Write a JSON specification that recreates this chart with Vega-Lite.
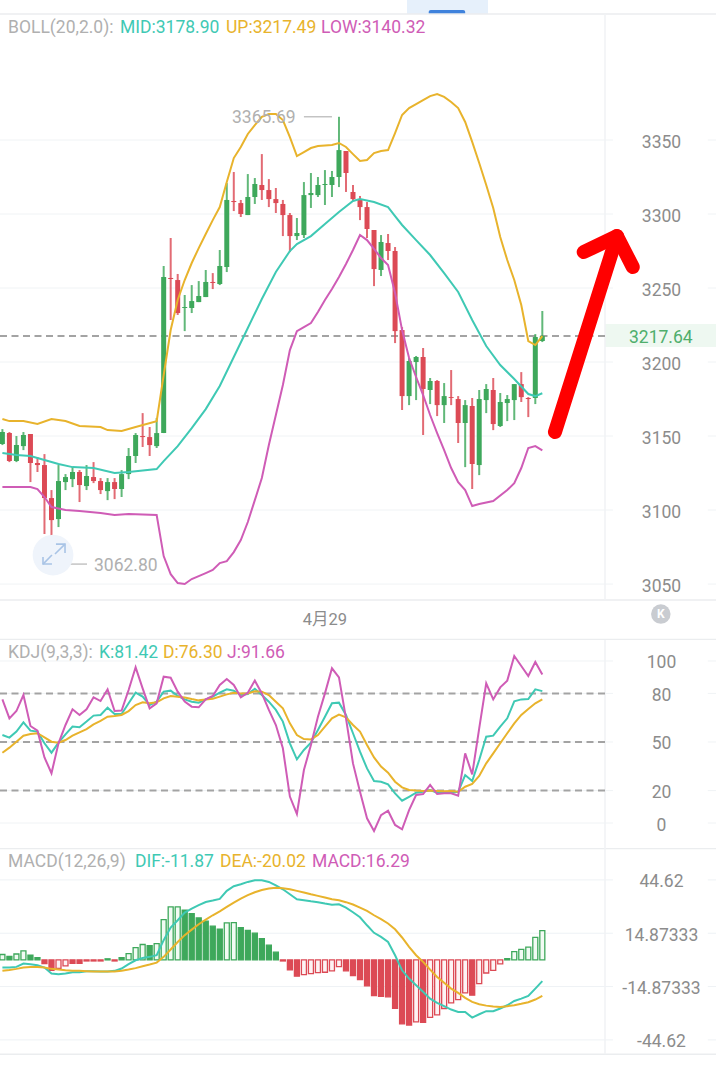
{
"$schema":"https://vega.github.io/schema/vega-lite/v6.json",
"padding":0,"spacing":0,"bounds":"flush","background":"#ffffff",
"config":{"view":{"stroke":null},"text":{"font":"Roboto"},"concat":{"spacing":0}},
"datasets":{
"candles":[
{"i":0,"o":3144.6,"c":3152.7,"h":3154.7,"l":3143.9,"tone":"up"},
{"i":1,"o":3152.0,"c":3133.1,"h":3152.7,"l":3132.4,"tone":"down"},
{"i":2,"o":3133.1,"c":3143.9,"h":3150.0,"l":3132.4,"tone":"up"},
{"i":3,"o":3143.2,"c":3150.7,"h":3152.7,"l":3140.5,"tone":"up"},
{"i":4,"o":3151.3,"c":3131.8,"h":3151.3,"l":3118.9,"tone":"down"},
{"i":5,"o":3131.8,"c":3130.4,"h":3135.8,"l":3125.7,"tone":"down"},
{"i":6,"o":3130.4,"c":3108.1,"h":3137.8,"l":3083.8,"tone":"down"},
{"i":7,"o":3108.1,"c":3093.2,"h":3113.5,"l":3062.8,"tone":"down"},
{"i":8,"o":3093.9,"c":3119.6,"h":3130.4,"l":3088.5,"tone":"up"},
{"i":9,"o":3118.9,"c":3122.3,"h":3124.3,"l":3113.5,"tone":"up"},
{"i":10,"o":3120.9,"c":3125.7,"h":3129.0,"l":3115.5,"tone":"up"},
{"i":11,"o":3125.7,"c":3116.9,"h":3127.0,"l":3105.4,"tone":"down"},
{"i":12,"o":3116.2,"c":3123.0,"h":3130.4,"l":3113.5,"tone":"up"},
{"i":13,"o":3122.3,"c":3119.6,"h":3132.4,"l":3118.2,"tone":"down"},
{"i":14,"o":3119.6,"c":3113.5,"h":3121.6,"l":3110.8,"tone":"down"},
{"i":15,"o":3112.8,"c":3118.9,"h":3121.6,"l":3106.7,"tone":"up"},
{"i":16,"o":3118.9,"c":3114.2,"h":3121.6,"l":3107.4,"tone":"down"},
{"i":17,"o":3114.2,"c":3124.3,"h":3127.0,"l":3108.8,"tone":"up"},
{"i":18,"o":3124.3,"c":3136.5,"h":3141.9,"l":3120.9,"tone":"up"},
{"i":19,"o":3136.5,"c":3150.7,"h":3152.0,"l":3131.8,"tone":"up"},
{"i":20,"o":3150.0,"c":3149.3,"h":3165.5,"l":3142.6,"tone":"down"},
{"i":21,"o":3149.3,"c":3143.9,"h":3156.1,"l":3136.5,"tone":"down"},
{"i":22,"o":3143.2,"c":3152.0,"h":3162.2,"l":3141.9,"tone":"up"},
{"i":23,"o":3152.0,"c":3257.4,"h":3264.9,"l":3152.0,"tone":"up"},
{"i":24,"o":3256.8,"c":3256.1,"h":3283.8,"l":3228.4,"tone":"down"},
{"i":25,"o":3255.4,"c":3233.1,"h":3259.5,"l":3231.8,"tone":"down"},
{"i":26,"o":3236.5,"c":3237.2,"h":3245.3,"l":3220.9,"tone":"up"},
{"i":27,"o":3236.5,"c":3241.2,"h":3252.0,"l":3233.1,"tone":"up"},
{"i":28,"o":3240.5,"c":3244.6,"h":3254.7,"l":3240.5,"tone":"up"},
{"i":29,"o":3243.9,"c":3254.1,"h":3262.2,"l":3243.9,"tone":"up"},
{"i":30,"o":3254.1,"c":3253.4,"h":3260.1,"l":3249.3,"tone":"down"},
{"i":31,"o":3252.7,"c":3264.9,"h":3275.7,"l":3252.0,"tone":"up"},
{"i":32,"o":3264.2,"c":3309.5,"h":3320.9,"l":3260.8,"tone":"up"},
{"i":33,"o":3308.8,"c":3308.1,"h":3328.4,"l":3302.0,"tone":"down"},
{"i":34,"o":3307.4,"c":3300.0,"h":3309.5,"l":3298.0,"tone":"down"},
{"i":35,"o":3299.3,"c":3311.5,"h":3327.0,"l":3299.3,"tone":"up"},
{"i":36,"o":3311.5,"c":3320.3,"h":3324.3,"l":3306.8,"tone":"up"},
{"i":37,"o":3319.6,"c":3316.2,"h":3340.5,"l":3309.5,"tone":"down"},
{"i":38,"o":3316.2,"c":3310.1,"h":3323.6,"l":3304.7,"tone":"down"},
{"i":39,"o":3310.1,"c":3307.4,"h":3317.6,"l":3300.7,"tone":"down"},
{"i":40,"o":3306.8,"c":3299.3,"h":3309.5,"l":3285.1,"tone":"down"},
{"i":41,"o":3299.3,"c":3285.1,"h":3300.7,"l":3274.3,"tone":"down"},
{"i":42,"o":3285.1,"c":3287.2,"h":3297.3,"l":3282.4,"tone":"up"},
{"i":43,"o":3285.8,"c":3312.8,"h":3321.6,"l":3283.8,"tone":"up"},
{"i":44,"o":3312.8,"c":3314.2,"h":3327.7,"l":3304.1,"tone":"up"},
{"i":45,"o":3312.8,"c":3319.6,"h":3325.0,"l":3311.5,"tone":"up"},
{"i":46,"o":3319.6,"c":3320.3,"h":3329.7,"l":3306.1,"tone":"up"},
{"i":47,"o":3319.6,"c":3325.0,"h":3329.1,"l":3311.5,"tone":"up"},
{"i":48,"o":3325.0,"c":3343.2,"h":3365.69,"l":3318.2,"tone":"up"},
{"i":49,"o":3342.6,"c":3327.7,"h":3342.6,"l":3314.9,"tone":"down"},
{"i":50,"o":3314.9,"c":3310.1,"h":3319.6,"l":3308.8,"tone":"down"},
{"i":51,"o":3309.5,"c":3304.7,"h":3312.2,"l":3295.9,"tone":"down"},
{"i":52,"o":3304.7,"c":3289.9,"h":3308.1,"l":3283.8,"tone":"down"},
{"i":53,"o":3289.2,"c":3262.8,"h":3289.2,"l":3251.3,"tone":"down"},
{"i":54,"o":3262.2,"c":3281.1,"h":3285.8,"l":3258.1,"tone":"up"},
{"i":55,"o":3280.4,"c":3275.0,"h":3286.5,"l":3268.9,"tone":"down"},
{"i":56,"o":3275.0,"c":3220.9,"h":3277.7,"l":3212.8,"tone":"down"},
{"i":57,"o":3221.6,"c":3177.0,"h":3223.6,"l":3167.6,"tone":"down"},
{"i":58,"o":3177.0,"c":3200.7,"h":3202.7,"l":3170.9,"tone":"up"},
{"i":59,"o":3200.0,"c":3203.4,"h":3204.1,"l":3174.3,"tone":"up"},
{"i":60,"o":3203.4,"c":3181.8,"h":3209.5,"l":3150.7,"tone":"down"},
{"i":61,"o":3181.1,"c":3187.2,"h":3189.2,"l":3171.6,"tone":"up"},
{"i":62,"o":3187.2,"c":3170.9,"h":3187.8,"l":3163.5,"tone":"down"},
{"i":63,"o":3170.9,"c":3177.0,"h":3185.8,"l":3158.8,"tone":"up"},
{"i":64,"o":3176.3,"c":3175.7,"h":3194.6,"l":3170.9,"tone":"down"},
{"i":65,"o":3175.0,"c":3158.8,"h":3177.0,"l":3145.3,"tone":"down"},
{"i":66,"o":3158.8,"c":3170.9,"h":3174.3,"l":3129.0,"tone":"up"},
{"i":67,"o":3170.3,"c":3131.1,"h":3175.7,"l":3114.2,"tone":"down"},
{"i":68,"o":3130.4,"c":3175.0,"h":3181.1,"l":3123.6,"tone":"up"},
{"i":69,"o":3174.3,"c":3181.8,"h":3185.1,"l":3165.5,"tone":"up"},
{"i":70,"o":3181.1,"c":3158.1,"h":3189.2,"l":3154.0,"tone":"down"},
{"i":71,"o":3156.8,"c":3173.0,"h":3179.1,"l":3156.1,"tone":"up"},
{"i":72,"o":3172.3,"c":3175.0,"h":3177.7,"l":3160.1,"tone":"up"},
{"i":73,"o":3174.3,"c":3185.1,"h":3185.1,"l":3160.8,"tone":"up"},
{"i":74,"o":3185.1,"c":3176.3,"h":3193.2,"l":3173.0,"tone":"down"},
{"i":75,"o":3175.7,"c":3175.0,"h":3176.3,"l":3162.8,"tone":"down"},
{"i":76,"o":3175.7,"c":3216.9,"h":3218.9,"l":3171.6,"tone":"up"},
{"i":77,"o":3214.2,"c":3217.64,"h":3234.5,"l":3213.5,"tone":"up"}
],
"up":[
{"i":0,"p":3161.5},{"i":1,"p":3160.1},{"i":3,"p":3160.1},{"i":5,"p":3158.1},{"i":7,"p":3161.5},{"i":9,"p":3160.1},{"i":11,"p":3156.8},{"i":14,"p":3156.1},{"i":15,"p":3154.0},{"i":17,"p":3153.4},{"i":19,"p":3156.1},{"i":22,"p":3160.1},{"i":23,"p":3191.2},{"i":24,"p":3221.6},{"i":25,"p":3241.9},{"i":26,"p":3255.4},{"i":27,"p":3266.9},{"i":28,"p":3277.0},{"i":29,"p":3286.5},{"i":30,"p":3295.9},{"i":31,"p":3304.7},{"i":32,"p":3321.6},{"i":33,"p":3337.8},{"i":34,"p":3345.3},{"i":35,"p":3354.1},{"i":36,"p":3360.1},{"i":37,"p":3365.6},{"i":38,"p":3367.6},{"i":39,"p":3367.6},{"i":40,"p":3363.5},{"i":41,"p":3352.0},{"i":42,"p":3339.2},{"i":43,"p":3341.9},{"i":44,"p":3344.6},{"i":45,"p":3345.9},{"i":46,"p":3346.3},{"i":47,"p":3346.6},{"i":48,"p":3348.0},{"i":49,"p":3345.3},{"i":50,"p":3340.5},{"i":51,"p":3335.8},{"i":52,"p":3336.5},{"i":53,"p":3341.2},{"i":54,"p":3342.6},{"i":55,"p":3343.2},{"i":56,"p":3354.7},{"i":57,"p":3366.9},{"i":58,"p":3371.6},{"i":59,"p":3374.3},{"i":60,"p":3377.0},{"i":61,"p":3379.7},{"i":62,"p":3381.1},{"i":63,"p":3379.1},{"i":64,"p":3375.7},{"i":65,"p":3371.6},{"i":66,"p":3362.2},{"i":67,"p":3348.7},{"i":68,"p":3334.5},{"i":69,"p":3319.6},{"i":70,"p":3304.1},{"i":71,"p":3284.5},{"i":72,"p":3268.9},{"i":73,"p":3255.4},{"i":74,"p":3238.5},{"i":75,"p":3214.2},{"i":76,"p":3211.5},{"i":77,"p":3217.49}
],
"mid":[
{"i":0,"p":3138.5},{"i":2,"p":3137.2},{"i":4,"p":3136.5},{"i":6,"p":3133.8},{"i":8,"p":3131.1},{"i":10,"p":3129.0},{"i":13,"p":3128.4},{"i":16,"p":3125.0},{"i":18,"p":3125.7},{"i":22,"p":3127.7},{"i":23,"p":3133.1},{"i":25,"p":3143.2},{"i":27,"p":3155.4},{"i":29,"p":3168.2},{"i":31,"p":3183.8},{"i":33,"p":3203.4},{"i":35,"p":3223.0},{"i":37,"p":3242.6},{"i":39,"p":3260.8},{"i":41,"p":3275.0},{"i":42,"p":3279.7},{"i":44,"p":3285.1},{"i":46,"p":3293.2},{"i":48,"p":3301.4},{"i":50,"p":3308.8},{"i":51,"p":3310.1},{"i":53,"p":3308.1},{"i":55,"p":3304.7},{"i":56,"p":3298.6},{"i":57,"p":3292.6},{"i":59,"p":3282.4},{"i":61,"p":3272.3},{"i":63,"p":3260.1},{"i":65,"p":3247.3},{"i":67,"p":3228.4},{"i":69,"p":3210.8},{"i":71,"p":3198.0},{"i":73,"p":3188.5},{"i":75,"p":3178.4},{"i":76,"p":3177.0},{"i":77,"p":3178.9}
],
"low":[
{"i":0,"p":3115.5},{"i":4,"p":3115.5},{"i":5,"p":3114.2},{"i":6,"p":3108.8},{"i":7,"p":3102.0},{"i":9,"p":3100.0},{"i":11,"p":3099.3},{"i":14,"p":3098.0},{"i":16,"p":3096.6},{"i":18,"p":3097.3},{"i":22,"p":3096.6},{"i":23,"p":3068.9},{"i":24,"p":3056.7},{"i":25,"p":3050.7},{"i":26,"p":3050.0},{"i":27,"p":3053.4},{"i":28,"p":3055.4},{"i":29,"p":3057.4},{"i":30,"p":3059.5},{"i":31,"p":3064.2},{"i":32,"p":3065.5},{"i":33,"p":3071.6},{"i":34,"p":3079.7},{"i":35,"p":3091.9},{"i":36,"p":3106.7},{"i":37,"p":3121.6},{"i":38,"p":3143.9},{"i":39,"p":3164.2},{"i":40,"p":3184.5},{"i":41,"p":3208.1},{"i":42,"p":3220.9},{"i":43,"p":3223.6},{"i":44,"p":3226.3},{"i":45,"p":3233.8},{"i":46,"p":3241.9},{"i":47,"p":3249.3},{"i":48,"p":3257.4},{"i":49,"p":3266.2},{"i":50,"p":3275.7},{"i":51,"p":3285.8},{"i":52,"p":3282.4},{"i":53,"p":3276.4},{"i":54,"p":3270.3},{"i":55,"p":3265.5},{"i":56,"p":3246.6},{"i":57,"p":3221.6},{"i":58,"p":3202.7},{"i":59,"p":3189.9},{"i":60,"p":3177.7},{"i":61,"p":3164.2},{"i":62,"p":3152.0},{"i":63,"p":3140.5},{"i":64,"p":3128.4},{"i":65,"p":3118.9},{"i":66,"p":3113.5},{"i":67,"p":3102.7},{"i":68,"p":3104.1},{"i":70,"p":3106.1},{"i":72,"p":3113.5},{"i":73,"p":3118.2},{"i":74,"p":3128.4},{"i":75,"p":3141.9},{"i":76,"p":3143.2},{"i":77,"p":3140.32}
],
"kdj":[
{"i":0,"k":54.3,"d":43.4,"j":76.3},{"i":1,"k":52.7,"d":46.5,"j":64.6},{"i":2,"k":56.4,"d":50.2,"j":69.1},{"i":3,"k":62.1,"d":53.9,"j":79.0},{"i":4,"k":57.0,"d":54.9,"j":59.9},{"i":5,"k":56.4,"d":55.4,"j":57.0},{"i":6,"k":49.2,"d":52.9,"j":40.5},{"i":7,"k":43.4,"d":50.2,"j":30.7},{"i":8,"k":49.6,"d":49.6,"j":49.2},{"i":9,"k":54.7,"d":51.2,"j":60.5},
{"i":10,"k":59.5,"d":53.9,"j":70.2},{"i":11,"k":59.1,"d":56.0,"j":66.7},{"i":12,"k":62.6,"d":58.0,"j":70.2},{"i":13,"k":66.3,"d":60.9,"j":77.6},{"i":14,"k":66.7,"d":63.0,"j":75.3},{"i":15,"k":71.2,"d":65.6,"j":82.5},{"i":16,"k":67.3,"d":66.0,"j":69.1},{"i":17,"k":67.3,"d":66.7,"j":69.4},{"i":18,"k":73.9,"d":69.1,"j":82.1},{"i":19,"k":80.5,"d":72.8,"j":96.1},
{"i":20,"k":78.0,"d":74.5,"j":83.1},{"i":21,"k":72.8,"d":73.9,"j":70.8},{"i":22,"k":74.9,"d":74.5,"j":73.9},{"i":23,"k":81.1,"d":76.9,"j":90.3},{"i":24,"k":81.7,"d":78.4,"j":89.7},{"i":25,"k":78.4,"d":78.0,"j":81.1},{"i":26,"k":76.3,"d":77.4,"j":74.9},{"i":27,"k":74.9,"d":76.5,"j":71.8},{"i":28,"k":74.3,"d":75.7,"j":71.4},{"i":29,"k":76.3,"d":76.3,"j":76.3},
{"i":30,"k":78.0,"d":76.7,"j":78.4},{"i":31,"k":80.5,"d":78.0,"j":85.2},{"i":32,"k":82.5,"d":79.4,"j":88.9},{"i":33,"k":81.7,"d":80.4,"j":85.2},{"i":34,"k":79.0,"d":80.0,"j":77.6},{"i":35,"k":79.6,"d":80.0,"j":80.4},{"i":36,"k":82.9,"d":81.3,"j":87.9},{"i":37,"k":79.0,"d":81.1,"j":80.0},{"i":38,"k":74.9,"d":79.0,"j":69.8},{"i":39,"k":69.8,"d":74.9,"j":60.5},
{"i":40,"k":62.6,"d":70.8,"j":46.1},{"i":41,"k":49.2,"d":61.5,"j":16.3},{"i":42,"k":39.3,"d":54.3,"j":5.6},{"i":43,"k":45.1,"d":51.8,"j":32.7},{"i":44,"k":49.6,"d":51.6,"j":48.2},{"i":45,"k":57.4,"d":54.3,"j":65.6},{"i":46,"k":65.6,"d":59.5,"j":80.0},{"i":47,"k":73.9,"d":64.6,"j":95.5},{"i":48,"k":74.3,"d":66.9,"j":89.9},{"i":49,"k":66.7,"d":65.2,"j":64.6},
{"i":50,"k":55.4,"d":60.5,"j":36.8},{"i":51,"k":44.0,"d":56.4,"j":19.3},{"i":52,"k":33.7,"d":48.2,"j":2.9},{"i":53,"k":25.9,"d":40.5,"j":-4.9},{"i":54,"k":25.5,"d":34.8,"j":4.9},{"i":55,"k":23.9,"d":31.1,"j":7.6},{"i":56,"k":18.3,"d":25.5,"j":-1.2},{"i":57,"k":13.8,"d":22.0,"j":-3.9},{"i":58,"k":16.2,"d":20.4,"j":8.0},{"i":59,"k":18.7,"d":20.0,"j":17.3},
{"i":60,"k":19.3,"d":19.8,"j":17.9},{"i":61,"k":20.4,"d":20.0,"j":23.5},{"i":62,"k":18.7,"d":19.8,"j":17.9},{"i":63,"k":18.7,"d":19.6,"j":18.3},{"i":64,"k":18.7,"d":19.8,"j":18.3},{"i":65,"k":19.3,"d":19.3,"j":16.9},{"i":66,"k":29.6,"d":22.4,"j":43.0},{"i":67,"k":25.9,"d":24.1,"j":30.0},{"i":68,"k":38.9,"d":29.0,"j":58.4},{"i":69,"k":53.3,"d":36.8,"j":86.2},
{"i":70,"k":53.9,"d":43.0,"j":76.3},{"i":71,"k":59.5,"d":49.2,"j":83.7},{"i":72,"k":64.6,"d":55.4,"j":87.9},{"i":73,"k":75.1,"d":61.5,"j":103.1},{"i":74,"k":76.3,"d":66.7,"j":96.9},{"i":75,"k":76.5,"d":70.4,"j":90.7},{"i":76,"k":82.5,"d":73.9,"j":99.4},{"i":77,"k":81.42,"d":76.3,"j":91.66}
],
"macd":[
{"i":0,"m":3.0,"kind":"gh","dif":-4.3,"dea":-6.1},{"i":1,"m":2.0,"kind":"gs","dif":-4.3,"dea":-5.6},{"i":2,"m":3.3,"kind":"gh","dif":-3.9,"dea":-5.0},{"i":3,"m":5.0,"kind":"gh","dif":-2.0,"dea":-4.3},{"i":4,"m":2.6,"kind":"gs","dif":-2.4,"dea":-3.9},{"i":5,"m":1.3,"kind":"gs","dif":-3.0,"dea":-3.9},{"i":6,"m":-2.0,"kind":"rs","dif":-4.3,"dea":-4.3},{"i":7,"m":-5.8,"kind":"rs","dif":-7.6,"dea":-5.0},{"i":8,"m":-4.8,"kind":"rh","dif":-8.0,"dea":-5.4},{"i":9,"m":-3.3,"kind":"rh","dif":-7.6,"dea":-5.8},
{"i":10,"m":-1.9,"kind":"rs","dif":-6.9,"dea":-6.1},{"i":11,"m":-1.9,"kind":"rs","dif":-6.9,"dea":-6.1},{"i":12,"m":-0.6,"kind":"rs","dif":-6.3,"dea":-6.3},{"i":13,"m":-0.6,"kind":"rs","dif":-6.3,"dea":-6.5},{"i":14,"m":-0.6,"kind":"rs","dif":-6.5,"dea":-6.5},{"i":15,"m":0.6,"kind":"gs","dif":-6.5,"dea":-6.5},{"i":16,"m":-0.6,"kind":"rs","dif":-6.1,"dea":-6.5},{"i":17,"m":1.3,"kind":"gs","dif":-4.8,"dea":-6.1},{"i":18,"m":3.5,"kind":"gh","dif":-2.4,"dea":-5.4},{"i":19,"m":6.9,"kind":"gh","dif":-0.2,"dea":-4.6},
{"i":20,"m":8.6,"kind":"gh","dif":1.1,"dea":-3.5},{"i":21,"m":8.0,"kind":"gs","dif":1.7,"dea":-2.6},{"i":22,"m":9.1,"kind":"gh","dif":2.6,"dea":-1.5},{"i":23,"m":22.5,"kind":"gh","dif":11.0,"dea":1.7},{"i":24,"m":29.6,"kind":"gh","dif":18.0,"dea":5.8},{"i":25,"m":29.6,"kind":"gh","dif":22.1,"dea":10.0},{"i":26,"m":27.7,"kind":"gs","dif":26.4,"dea":13.8},{"i":27,"m":25.8,"kind":"gs","dif":28.6,"dea":16.9},{"i":28,"m":23.4,"kind":"gs","dif":30.5,"dea":19.9},{"i":29,"m":21.6,"kind":"gs","dif":32.3,"dea":22.5},
{"i":30,"m":18.8,"kind":"gs","dif":33.1,"dea":24.9},{"i":31,"m":17.1,"kind":"gs","dif":34.0,"dea":27.1},{"i":32,"m":20.6,"kind":"gh","dif":38.5,"dea":29.6},{"i":33,"m":20.8,"kind":"gh","dif":41.1,"dea":32.0},{"i":34,"m":18.0,"kind":"gs","dif":42.2,"dea":34.2},{"i":35,"m":16.5,"kind":"gs","dif":43.5,"dea":36.1},{"i":36,"m":14.9,"kind":"gs","dif":44.4,"dea":37.7},{"i":37,"m":11.9,"kind":"gs","dif":44.4,"dea":39.0},{"i":38,"m":8.2,"kind":"gs","dif":43.5,"dea":39.8},{"i":39,"m":4.3,"kind":"gs","dif":41.6,"dea":40.2},
{"i":40,"m":-0.6,"kind":"rs","dif":39.4,"dea":40.0},{"i":41,"m":-5.6,"kind":"rs","dif":36.6,"dea":39.4},{"i":42,"m":-9.1,"kind":"rs","dif":33.8,"dea":38.5},{"i":43,"m":-8.2,"kind":"rh","dif":33.3,"dea":37.6},{"i":44,"m":-7.6,"kind":"rh","dif":32.7,"dea":36.6},{"i":45,"m":-7.1,"kind":"rh","dif":32.2,"dea":35.7},{"i":46,"m":-6.9,"kind":"rh","dif":31.4,"dea":34.8},{"i":47,"m":-6.1,"kind":"rh","dif":30.7,"dea":33.8},{"i":48,"m":-3.7,"kind":"rh","dif":31.0,"dea":33.3},{"i":49,"m":-6.1,"kind":"rs","dif":29.2,"dea":32.2},
{"i":50,"m":-8.7,"kind":"rs","dif":26.6,"dea":30.9},{"i":51,"m":-11.0,"kind":"rs","dif":23.8,"dea":29.2},{"i":52,"m":-14.5,"kind":"rs","dif":19.3,"dea":27.3},{"i":53,"m":-19.9,"kind":"rs","dif":15.1,"dea":24.9},{"i":54,"m":-20.3,"kind":"rs","dif":12.8,"dea":22.7},{"i":55,"m":-20.6,"kind":"rs","dif":10.0,"dea":20.3},{"i":56,"m":-27.0,"kind":"rs","dif":2.6,"dea":17.1},{"i":57,"m":-35.7,"kind":"rs","dif":-5.8,"dea":12.5},{"i":58,"m":-36.3,"kind":"rs","dif":-10.4,"dea":7.3},{"i":59,"m":-34.6,"kind":"rh","dif":-14.1,"dea":2.6},
{"i":60,"m":-34.8,"kind":"rs","dif":-17.8,"dea":-1.1},{"i":61,"m":-32.0,"kind":"rh","dif":-21.6,"dea":-5.4},{"i":62,"m":-30.7,"kind":"rh","dif":-24.0,"dea":-9.5},{"i":63,"m":-27.1,"kind":"rh","dif":-25.8,"dea":-12.8},{"i":64,"m":-24.0,"kind":"rh","dif":-27.7,"dea":-16.0},{"i":65,"m":-22.1,"kind":"rh","dif":-29.0,"dea":-18.4},{"i":66,"m":-18.4,"kind":"rh","dif":-29.0,"dea":-21.2},{"i":67,"m":-19.7,"kind":"rs","dif":-32.2,"dea":-23.4},{"i":68,"m":-13.2,"kind":"rh","dif":-30.3,"dea":-24.7},{"i":69,"m":-7.3,"kind":"rh","dif":-28.6,"dea":-25.5},
{"i":70,"m":-5.8,"kind":"rh","dif":-28.6,"dea":-26.0},{"i":71,"m":-2.2,"kind":"rh","dif":-27.1,"dea":-26.2},{"i":72,"m":0.7,"kind":"gs","dif":-25.3,"dea":-25.8},{"i":73,"m":4.6,"kind":"gh","dif":-22.9,"dea":-25.3},{"i":74,"m":5.9,"kind":"gh","dif":-21.6,"dea":-24.5},{"i":75,"m":7.1,"kind":"gh","dif":-20.1,"dea":-23.6},{"i":76,"m":12.6,"kind":"gh","dif":-16.0,"dea":-22.1},{"i":77,"m":16.29,"kind":"gh","dif":-11.87,"dea":-20.02}
]
},
"vconcat":[
{"width":716,"height":640,
"encoding":{
"x":{"field":"i","type":"quantitative","scale":{"domain":[-0.342,101.77],"nice":false,"zero":false,"padding":0},"axis":null},
"y":{"field":"p","type":"quantitative","scale":{"domain":[3012.2,3444.6],"nice":false,"zero":false,"padding":0},
"axis":{"orient":"right","offset":-55,"title":null,"grid":false,"domain":false,"ticks":false,"labelPadding":0,"labelOffset":2,"format":"d","labelAlign":"center","labelFont":"Roboto","labelFontSize":17.5,"labelColor":"#8c8c8c","labelOverlap":false,"labelFlush":false,"values":[3050,3100,3150,3200,3250,3300,3350]}},
"color":{"field":"tone","type":"nominal","legend":null,"scale":{"domain":["up","down","gray","teal","yellow","magenta","price"],"range":["#3ea85b","#dc4a55","#b0b0b0","#3fc9b4","#e8b32c","#cf5cb6","#4fae6c"]}}
},
"layer":[
{"data":{"values":[{"i":85.94,"i2":101.77,"p":3225.7,"p2":3210.1}]},"mark":{"type":"rect","clip":true},"encoding":{"color":{"value":"#eef8f1"},"x2":{"field":"i2"},"y2":{"field":"p2"}}},
{"data":{"values":[{"i":57.7,"i2":69.25,"p":3444.6,"p2":3435.1}]},"mark":{"type":"rect","clip":true},"encoding":{"color":{"value":"#e6f0fb"},"x2":{"field":"i2"},"y2":{"field":"p2"}}},
{"data":{"values":[{"i":60.8,"i2":66.0,"p":3437.8,"p2":3435.1}]},"mark":{"type":"rect","clip":true,"cornerRadiusTopLeft":4,"cornerRadiusTopRight":4},"encoding":{"color":{"value":"#3f82dc"},"x2":{"field":"i2"},"y2":{"field":"p2"}}},
{"data":{"values":[{"i":-0.342,"i2":87.08,"p":3350},{"i":-0.342,"i2":87.08,"p":3300},{"i":-0.342,"i2":87.08,"p":3250},{"i":-0.342,"i2":87.08,"p":3200},{"i":-0.342,"i2":87.08,"p":3150},{"i":-0.342,"i2":87.08,"p":3100},{"i":-0.342,"i2":87.08,"p":3050},{"i":100.6,"i2":101.77,"p":3350},{"i":100.6,"i2":101.77,"p":3300},{"i":100.6,"i2":101.77,"p":3250},{"i":100.6,"i2":101.77,"p":3200},{"i":100.6,"i2":101.77,"p":3150},{"i":100.6,"i2":101.77,"p":3100},{"i":100.6,"i2":101.77,"p":3050}]},"mark":{"type":"rule","clip":true,"strokeWidth":1},"encoding":{"color":{"value":"#f0f3f5"},"x2":{"field":"i2"}}},
{"data":{"values":[{"i":-0.342,"i2":101.77,"p":3435.1},{"i":-0.342,"i2":101.77,"p":3039.2},{"i":-0.342,"i2":101.77,"p":3012.6}]},"mark":{"type":"rule","clip":true,"strokeWidth":1.5},"encoding":{"color":{"value":"#ebedef"},"x2":{"field":"i2"}}},
{"data":{"values":[{"i":85.94,"p":3435.1,"p2":3039.2}]},"mark":{"type":"rule","clip":true,"strokeWidth":1.5},"encoding":{"color":{"value":"#f0f2f4"},"y2":{"field":"p2"}}},
{"data":{"values":[{"i":-0.342,"i2":85.94,"p":3217.64}]},"mark":{"type":"rule","clip":true,"strokeWidth":2,"strokeDash":[7,4.5]},"encoding":{"color":{"value":"#a3a3a3"},"x2":{"field":"i2"}}},
{"data":{"name":"candles"},"mark":{"type":"rule","clip":true,"strokeWidth":2,"opacity":0.82},"encoding":{"y":{"field":"h","type":"quantitative","title":null},"y2":{"field":"l"}}},
{"data":{"name":"candles"},"mark":{"type":"bar","clip":true,"width":5,"orient":"vertical"},"encoding":{"y":{"field":"o","type":"quantitative","title":null},"y2":{"field":"c"}}},
{"data":{"name":"mid"},"mark":{"type":"line","clip":true,"strokeWidth":2},"encoding":{"color":{"value":"#3fc9b4"}}},
{"data":{"name":"up"},"mark":{"type":"line","clip":true,"strokeWidth":2},"encoding":{"color":{"value":"#e8b32c"}}},
{"data":{"name":"low"},"mark":{"type":"line","clip":true,"strokeWidth":2},"encoding":{"color":{"value":"#cf5cb6"}}},
{"data":{"values":[{"g":"b","i":43.0,"p":3365.69},{"g":"b","i":47.0,"p":3365.69},{"g":"a","i":7.93,"p":3063.5},{"g":"a","i":12.07,"p":3063.5}]},"mark":{"type":"line","clip":true,"strokeWidth":1.2},"encoding":{"color":{"value":"#b5b5b5"},"detail":{"field":"g"}}},
{"data":{"values":[{"i":7.22,"p":3069.6}]},"mark":{"type":"point","filled":true,"opacity":1,"size":1660},"encoding":{"color":{"value":"#eff4fb"}}},
{"data":{"values":[{"s":"a","n":1,"i":5.79,"p":3068.2},{"s":"a","n":2,"i":5.79,"p":3063.5},{"s":"a","n":3,"i":7.07,"p":3063.5},{"s":"b","n":1,"i":5.79,"p":3063.5},{"s":"b","n":2,"i":7.07,"p":3069.6},{"s":"c","n":1,"i":7.64,"p":3077.0},{"s":"c","n":2,"i":8.93,"p":3077.0},{"s":"c","n":3,"i":8.93,"p":3070.9},{"s":"d","n":1,"i":8.93,"p":3077.0},{"s":"d","n":2,"i":7.5,"p":3070.3}]},"mark":{"type":"line","clip":true,"strokeWidth":1.6},"encoding":{"color":{"value":"#a9c4e6"},"detail":{"field":"s"},"order":{"field":"n"}}},
{"data":{"values":[{"s":"a","i":78.8,"p":3152.7},{"s":"a","i":87.65,"p":3285.1},{"s":"b","i":82.9,"p":3274.3},{"s":"b","i":87.65,"p":3285.1},{"s":"b","i":89.9,"p":3264.2}]},"mark":{"type":"line","clip":true,"strokeWidth":14,"strokeCap":"round","strokeJoin":"round"},"encoding":{"color":{"value":"#ff0000"},"detail":{"field":"s"}}},
{"data":{"values":[{"i":93.9,"p":3029.7}]},"mark":{"type":"point","filled":true,"opacity":1,"size":380},"encoding":{"color":{"value":"#c9ccd1"}}},
{"data":{"values":[{"i":93.9,"p":3029.7,"label":"K"}]},"mark":{"type":"text","fontSize":12,"fontWeight":"bold","align":"center","baseline":"middle"},"encoding":{"color":{"value":"#ffffff"},"text":{"field":"label"}}},
{"data":{"values":[{"i":46.0,"p":3025.7,"label":"4月29"}]},"mark":{"type":"text","font":"Roboto, Noto Sans CJK SC","fontSize":16.5,"align":"center","baseline":"middle"},"encoding":{"color":{"value":"#8c8c8c"},"text":{"field":"label"}}},
{"data":{"values":[{"i":93.9,"p":3217.4,"label":"3217.64"}]},"mark":{"type":"text","fontSize":17.5,"align":"center","baseline":"middle","dy":1.5},"encoding":{"color":{"value":"#4fae6c"},"text":{"field":"label"}}},
{"data":{"values":[{"i":0.8,"p":3426.4,"label":"BOLL(20,2.0):","tone":"gray"},{"i":16.77,"p":3426.4,"label":"MID:3178.90","tone":"teal"},{"i":31.89,"p":3426.4,"label":"UP:3217.49","tone":"yellow"},{"i":45.44,"p":3426.4,"label":"LOW:3140.32","tone":"magenta"},{"i":32.74,"p":3365.6,"label":"3365.69","tone":"gray"},{"i":13.06,"p":3063.5,"label":"3062.80","tone":"gray"}]},"mark":{"type":"text","fontSize":17.5,"align":"left","baseline":"middle","dy":1.5},"encoding":{"text":{"field":"label"}}}
]},
{"width":716,"height":208,
"encoding":{
"x":{"field":"i","type":"quantitative","scale":{"domain":[-0.342,101.77],"nice":false,"zero":false,"padding":0},"axis":null},
"y":{"field":"p","type":"quantitative","scale":{"domain":[-15.43,112.96],"nice":false,"zero":false,"padding":0},
"axis":{"orient":"right","offset":-55,"title":null,"grid":false,"domain":false,"ticks":false,"labelPadding":0,"labelOffset":2,"labelAlign":"center","labelFont":"Roboto","labelFontSize":17.5,"labelColor":"#8c8c8c","labelOverlap":false,"labelFlush":false,"values":[0,20,50,80,100]}}
},
"layer":[
{"data":{"values":[{"i":-0.342,"i2":87.08,"p":100},{"i":-0.342,"i2":87.08,"p":80},{"i":-0.342,"i2":87.08,"p":50},{"i":-0.342,"i2":87.08,"p":20},{"i":-0.342,"i2":87.08,"p":0},{"i":100.6,"i2":101.77,"p":100},{"i":100.6,"i2":101.77,"p":80},{"i":100.6,"i2":101.77,"p":50},{"i":100.6,"i2":101.77,"p":20},{"i":100.6,"i2":101.77,"p":0}]},"mark":{"type":"rule","clip":true,"strokeWidth":1,"color":"#f0f3f5"},"encoding":{"x2":{"field":"i2"}}},
{"data":{"values":[{"i":85.94,"p":112.96,"p2":-15.43}]},"mark":{"type":"rule","clip":true,"strokeWidth":1.5,"color":"#f0f2f4"},"encoding":{"y2":{"field":"p2"}}},
{"data":{"values":[{"i":-0.342,"i2":85.94,"p":80},{"i":-0.342,"i2":85.94,"p":50},{"i":-0.342,"i2":85.94,"p":20}]},"mark":{"type":"rule","clip":true,"strokeWidth":2,"strokeDash":[7,4.5],"color":"#a3a3a3"},"encoding":{"x2":{"field":"i2"}}},
{"data":{"name":"kdj"},"mark":{"type":"line","clip":true,"strokeWidth":2,"color":"#3fc9b4"},"encoding":{"y":{"field":"k","type":"quantitative","title":null}}},
{"data":{"name":"kdj"},"mark":{"type":"line","clip":true,"strokeWidth":2,"color":"#e8b32c"},"encoding":{"y":{"field":"d","type":"quantitative","title":null}}},
{"data":{"name":"kdj"},"mark":{"type":"line","clip":true,"strokeWidth":2,"color":"#cf5cb6"},"encoding":{"y":{"field":"j","type":"quantitative","title":null}}},
{"data":{"values":[{"i":0.8,"p":105.6,"label":"KDJ(9,3,3):"}]},"mark":{"type":"text","fontSize":17.5,"align":"left","baseline":"middle","dy":1.5,"color":"#b0b0b0"},"encoding":{"text":{"field":"label"}}},
{"data":{"values":[{"i":13.78,"p":105.6,"label":"K:81.42"}]},"mark":{"type":"text","fontSize":17.5,"align":"left","baseline":"middle","dy":1.5,"color":"#3fc9b4"},"encoding":{"text":{"field":"label"}}},
{"data":{"values":[{"i":22.9,"p":105.6,"label":"D:76.30"}]},"mark":{"type":"text","fontSize":17.5,"align":"left","baseline":"middle","dy":1.5,"color":"#e8b32c"},"encoding":{"text":{"field":"label"}}},
{"data":{"values":[{"i":32.03,"p":105.6,"label":"J:91.66"}]},"mark":{"type":"text","fontSize":17.5,"align":"left","baseline":"middle","dy":1.5,"color":"#cf5cb6"},"encoding":{"text":{"field":"label"}}}
]},
{"width":716,"height":220,
"encoding":{
"x":{"field":"i","type":"quantitative","scale":{"domain":[-0.342,101.77],"nice":false,"zero":false,"padding":0},"axis":null},
"y":{"field":"p","type":"quantitative","scale":{"domain":[-60.29,62.41],"nice":false,"zero":false,"padding":0},
"axis":{"orient":"right","offset":-55,"title":null,"grid":false,"domain":false,"ticks":false,"labelPadding":0,"labelOffset":2,"labelAlign":"center","labelFont":"Roboto","labelFontSize":17.5,"labelColor":"#8c8c8c","labelOverlap":false,"labelFlush":false,"values":[44.62,14.87333,-14.87333,-44.62],"labelExpr":"datum.value+''"}}
},
"layer":[
{"data":{"values":[{"i":-0.342,"i2":87.08,"p":44.62},{"i":-0.342,"i2":87.08,"p":14.87333},{"i":-0.342,"i2":87.08,"p":-14.87333},{"i":-0.342,"i2":87.08,"p":-44.62},{"i":100.6,"i2":101.77,"p":44.62},{"i":100.6,"i2":101.77,"p":14.87333},{"i":100.6,"i2":101.77,"p":-14.87333},{"i":100.6,"i2":101.77,"p":-44.62}]},"mark":{"type":"rule","clip":true,"strokeWidth":1,"color":"#eef2f5"},"encoding":{"x2":{"field":"i2"}}},
{"data":{"values":[{"i":-0.342,"i2":101.77,"p":62.1},{"i":-0.342,"i2":101.77,"p":-52.6}]},"mark":{"type":"rule","clip":true,"strokeWidth":1.5,"color":"#ebedef"},"encoding":{"x2":{"field":"i2"}}},
{"data":{"values":[{"i":85.94,"p":62.41,"p2":-52.6}]},"mark":{"type":"rule","clip":true,"strokeWidth":1.5,"color":"#f0f2f4"},"encoding":{"y2":{"field":"p2"}}},
{"data":{"name":"macd"},"mark":{"type":"bar","clip":true,"width":5,"orient":"vertical","strokeWidth":1.3},"encoding":{"y":{"field":"m","type":"quantitative","title":null},"y2":{"datum":0},
"fill":{"field":"kind","type":"nominal","legend":null,"scale":{"domain":["gs","gh","rs","rh"],"range":["#3ea85b","#f2fbf4","#dc4a55","#fdf3f4"]}},
"stroke":{"field":"kind","type":"nominal","legend":null,"scale":{"domain":["gs","gh","rs","rh"],"range":["#3ea85b","#3ea85b","#dc4a55","#dc4a55"]}}}},
{"data":{"name":"macd"},"mark":{"type":"line","clip":true,"strokeWidth":2,"color":"#3fc9b4"},"encoding":{"y":{"field":"dif","type":"quantitative","title":null}}},
{"data":{"name":"macd"},"mark":{"type":"line","clip":true,"strokeWidth":2,"color":"#e8b32c"},"encoding":{"y":{"field":"dea","type":"quantitative","title":null}}},
{"data":{"values":[{"i":0.8,"p":55.7,"label":"MACD(12,26,9)"}]},"mark":{"type":"text","fontSize":17.5,"align":"left","baseline":"middle","dy":1.5,"color":"#b0b0b0"},"encoding":{"text":{"field":"label"}}},
{"data":{"values":[{"i":18.9,"p":55.7,"label":"DIF:-11.87"}]},"mark":{"type":"text","fontSize":17.5,"align":"left","baseline":"middle","dy":1.5,"color":"#3fc9b4"},"encoding":{"text":{"field":"label"}}},
{"data":{"values":[{"i":31.03,"p":55.7,"label":"DEA:-20.02"}]},"mark":{"type":"text","fontSize":17.5,"align":"left","baseline":"middle","dy":1.5,"color":"#e8b32c"},"encoding":{"text":{"field":"label"}}},
{"data":{"values":[{"i":44.15,"p":55.7,"label":"MACD:16.29"}]},"mark":{"type":"text","fontSize":17.5,"align":"left","baseline":"middle","dy":1.5,"color":"#cf5cb6"},"encoding":{"text":{"field":"label"}}}
]}
]
}
